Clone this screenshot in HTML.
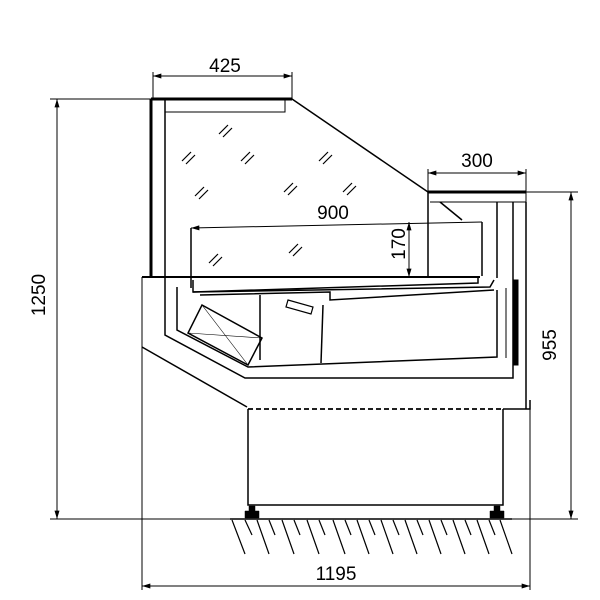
<!DOCTYPE html>
<html><head><style>html,body{margin:0;padding:0;background:#fff}svg{display:block}</style></head>
<body>
<svg width="600" height="600" viewBox="0 0 600 600" xmlns="http://www.w3.org/2000/svg" font-family="Liberation Sans, Arial, sans-serif">
<defs>
<marker id="a" viewBox="0 0 10 6" refX="10" refY="3" markerWidth="12" markerHeight="5" orient="auto-start-reverse" markerUnits="userSpaceOnUse"><path d="M0,0 L10,3 L0,6z" fill="#000"/></marker>
</defs>
<g stroke="#000" fill="none" stroke-width="1">
<line x1="153" y1="76" x2="292" y2="76" marker-start="url(#a)" marker-end="url(#a)"/>
<line x1="153" y1="72" x2="153" y2="99"/><line x1="292" y1="72" x2="292" y2="99"/>
<line x1="428" y1="173" x2="526" y2="173" marker-start="url(#a)" marker-end="url(#a)"/>
<line x1="428" y1="169" x2="428" y2="192"/><line x1="526" y1="169" x2="526" y2="192"/>
<line x1="50" y1="99" x2="151" y2="99"/>
<line x1="57" y1="99" x2="57" y2="519" marker-start="url(#a)" marker-end="url(#a)"/>
<line x1="50" y1="519" x2="230" y2="519"/>
<line x1="526" y1="192" x2="578" y2="192"/>
<line x1="571" y1="192" x2="571" y2="519" marker-start="url(#a)" marker-end="url(#a)"/>
<line x1="512" y1="519" x2="578" y2="519"/>
<line x1="142" y1="277" x2="142" y2="590"/><line x1="530" y1="400" x2="530" y2="590"/>
<line x1="142" y1="586" x2="530" y2="586" marker-start="url(#a)" marker-end="url(#a)"/>
<line x1="191" y1="228" x2="482" y2="222" marker-start="url(#a)"/>
<line x1="409" y1="222" x2="409" y2="277" marker-start="url(#a)" marker-end="url(#a)"/>
<line x1="151" y1="99" x2="292" y2="99" stroke-width="3"/>
<polyline points="165,99 165,112 285,112 285,99"/>
<line x1="151" y1="99" x2="151" y2="277" stroke-width="3"/>
<line x1="165" y1="99" x2="165" y2="277" stroke-width="1.5"/>
<line x1="292" y1="99" x2="428" y2="192" stroke-width="1.5"/>
<line x1="428" y1="192" x2="526" y2="192" stroke-width="3"/>
<polyline points="430,202 526,202 526,192"/>
<line x1="428" y1="192" x2="428" y2="278" stroke-width="1.5"/>
<line x1="440" y1="202" x2="462" y2="220" stroke-width="1.5"/>
<line x1="497" y1="202" x2="497" y2="278" stroke-width="1.5"/>
<line x1="513" y1="202" x2="513" y2="282" stroke-width="1.5"/>
<line x1="526" y1="202" x2="526" y2="409" stroke-width="1.5"/>
<line x1="191" y1="228" x2="191" y2="288" stroke-width="1.5"/>
<line x1="482" y1="222" x2="482" y2="276" stroke-width="1.5"/>
<line x1="142" y1="277" x2="480" y2="277" stroke-width="2"/>
<polyline points="142,347 247,407" stroke-width="1.5"/>
<polyline points="165,277 165,335 245,378 513,378 513,282" stroke-width="1.5"/>
<polyline points="177,287 177,330 248,367 497,357 497,290" stroke-width="1.5"/>
<polyline points="193,280 193,292 478,283 478,278" stroke-width="1.5"/>
<polyline points="193,292 490,287 494,280" stroke-width="1.5"/>
<polyline points="200,295 330,292 330,300 494,290" stroke-width="1.5"/>
<line x1="260" y1="295" x2="260" y2="360" stroke-width="1.5"/>
<line x1="323" y1="305" x2="321" y2="363" stroke-width="1.5"/>
<polygon points="202,305 262,338 248,365 188,333" stroke-width="1.5"/>
<line x1="202" y1="305" x2="248" y2="365" stroke-width="0.6"/>
<line x1="188" y1="333" x2="262" y2="338" stroke-width="0.6"/>
<polygon points="288,300 313,307 311,314 286,307" stroke-width="1.2"/>
<rect x="513" y="280" width="5" height="85" fill="#000"/>
<line x1="506" y1="288" x2="506" y2="358" stroke-width="1"/>
<line x1="248" y1="409" x2="503" y2="409" stroke-width="1.8" stroke-dasharray="5,3"/>
<polyline points="503,409 530,409 530,400" stroke-width="1.5"/>
<polyline points="248,409 248,505 503,505 503,409" stroke-width="1.5"/>
<line x1="230" y1="519" x2="512" y2="519" stroke-width="1.5"/>
<path d="M249,506h6v5h4v7h-14v-7h4z" fill="#000" stroke-width="0.5"/>
<path d="M494,506h6v5h4v7h-14v-7h4z" fill="#000" stroke-width="0.5"/>
<g stroke-width="1.2">
<line x1="232" y1="520" x2="245" y2="554"/><line x1="245" y1="520" x2="252" y2="535"/>
<line x1="257" y1="520" x2="269" y2="554"/><line x1="269" y1="520" x2="275" y2="535"/>
<line x1="282" y1="520" x2="294" y2="554"/><line x1="294" y1="520" x2="300" y2="535"/>
<line x1="307" y1="520" x2="319" y2="554"/><line x1="319" y1="520" x2="325" y2="535"/>
<line x1="333" y1="520" x2="345" y2="554"/><line x1="345" y1="520" x2="351" y2="535"/>
<line x1="357" y1="520" x2="369" y2="554"/><line x1="369" y1="520" x2="375" y2="535"/>
<line x1="381" y1="520" x2="393" y2="554"/><line x1="393" y1="520" x2="399" y2="535"/>
<line x1="405" y1="520" x2="417" y2="554"/><line x1="417" y1="520" x2="423" y2="535"/>
<line x1="429" y1="520" x2="441" y2="554"/><line x1="441" y1="520" x2="447" y2="535"/>
<line x1="453" y1="520" x2="465" y2="554"/><line x1="465" y1="520" x2="471" y2="535"/>
<line x1="477" y1="520" x2="489" y2="554"/><line x1="489" y1="520" x2="495" y2="535"/>
<line x1="500" y1="520" x2="512" y2="554"/>
</g>
<g stroke-width="1.2">
<path d="M219,134l9,-9M223,137l9,-9M182,161l9,-9M186,164l9,-9M241,161l9,-9M245,164l9,-9M319,161l9,-9M323,164l9,-9M195,196l9,-9M199,199l9,-9M284,192l9,-9M288,195l9,-9M343,192l9,-9M347,195l9,-9M209,263l9,-9M213,266l9,-9M289,253l9,-9M293,256l9,-9"/>
</g>
</g>
<g font-size="19" fill="#000" text-anchor="middle">
<text x="225" y="72">425</text>
<text x="477" y="167">300</text>
<text x="333" y="219">900</text>
<text x="336" y="580">1195</text>
<text transform="translate(405,244) rotate(-90)">170</text>
<text transform="translate(45,295) rotate(-90)">1250</text>
<text transform="translate(556,345) rotate(-90)">955</text>
</g>
</svg>
</body></html>
